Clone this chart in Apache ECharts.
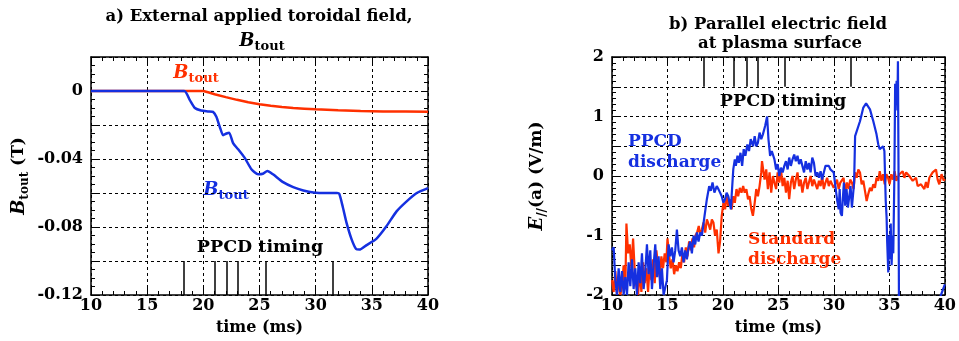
<!DOCTYPE html>
<html>
<head>
<meta charset="utf-8">
<script src="https://cdn.jsdelivr.net/npm/echarts@6/dist/echarts.min.js"></script>
<style>
  html, body { margin: 0; padding: 0; background: #fff; }
  #chart { width: 959px; height: 341px; }
</style>
</head>
<body>
<div id="chart"></div>
<script>
// panel a) external toroidal field B_tout (T) vs time (ms)
const stdBtout = [
  [10, 0], [20, 0], [20.5, -0.0009], [21, -0.0019], [22, -0.0036], [23, -0.0052],
  [24, -0.0066], [25, -0.0078], [26, -0.0087], [27, -0.0094], [28, -0.0100],
  [29, -0.0104], [30, -0.0108], [32, -0.0113], [34, -0.0117], [36, -0.0120],
  [38, -0.0121], [40, -0.0122]
]
const ppcdBtout = [
  [10, 0], [18.3, 0], [18.8, -0.0054], [19.25, -0.0100], [19.8, -0.0115], [20.4, -0.0120],
  [20.86, -0.0123], [21.16, -0.0152], [21.46, -0.021], [21.76, -0.026], [22.06, -0.025],
  [22.3, -0.0245], [22.65, -0.0307], [23.1, -0.0343], [23.7, -0.0395], [24.28, -0.046],
  [24.87, -0.049], [25.3, -0.0487], [25.7, -0.047], [26.2, -0.049], [27.1, -0.0536],
  [28.0, -0.0565], [28.9, -0.0585], [29.8, -0.0597], [31.0, -0.0600], [31.9, -0.0600],
  [32.1, -0.0605], [32.4, -0.0678], [32.75, -0.0776], [33.2, -0.0873], [33.6, -0.0930],
  [33.9, -0.0933], [34.5, -0.0908], [35.4, -0.0870], [36.3, -0.0796], [37.2, -0.0708],
  [38.1, -0.0649], [39.0, -0.0600], [40, -0.0571]
]
const ppcdTiming = [18.3, 21.0, 22.1, 23.1, 25.6, 31.5]

// panel b) parallel electric field E//(a) (V/m) vs time (ms)
const stdEpar = [
  [10.0, -1.75], [10.15, -1.95], [10.3, -1.6], [10.45, -2.0], [10.6, -1.7], [10.75, -2.0],
  [10.9, -1.85], [11.05, -1.5], [11.2, -1.9], [11.3, -0.8], [11.45, -1.3], [11.6, -1.15],
  [11.75, -1.55], [11.9, -1.05], [12.05, -1.6], [12.2, -1.85], [12.35, -2.0], [12.5, -1.6],
  [12.65, -1.95], [12.8, -1.45], [12.95, -1.8], [13.1, -1.55], [13.25, -1.95], [13.4, -1.5],
  [13.55, -1.75], [13.7, -1.4], [13.85, -1.8], [14.0, -1.25], [14.15, -1.5], [14.3, -1.7],
  [14.45, -1.35], [14.6, -1.55], [14.75, -1.3], [14.9, -1.45], [15.0, -1.05], [15.15, -1.35],
  [15.3, -1.55], [15.45, -1.4], [15.6, -1.65], [15.75, -1.5], [15.9, -1.6], [16.05, -1.45],
  [16.2, -1.55], [16.35, -1.3], [16.5, -1.45], [16.65, -1.2], [16.8, -1.35], [16.95, -1.1],
  [17.1, -1.25], [17.25, -1.05], [17.4, -1.2], [17.52, -1.0], [17.67, -0.95], [17.82, -0.84],
  [17.96, -1.0], [18.1, -0.9], [18.25, -0.78], [18.4, -0.95], [18.55, -0.73], [18.7, -0.81],
  [18.85, -0.9], [19.0, -0.73], [19.14, -0.78], [19.29, -1.0], [19.44, -0.9], [19.6, -1.3],
  [19.74, -1.1], [19.89, -0.67], [20.04, -0.45], [20.19, -0.56], [20.33, -0.34], [20.48, -0.5],
  [20.63, -0.39], [20.78, -0.56], [20.93, -0.34], [21.07, -0.45], [21.22, -0.22], [21.37, -0.34],
  [21.52, -0.2], [21.67, -0.28], [21.82, -0.17], [21.96, -0.28], [22.11, -0.22], [22.26, -0.39],
  [22.4, -0.34], [22.56, -0.56], [22.7, -0.67], [22.86, -0.45], [23.0, -0.22], [23.15, -0.34],
  [23.3, -0.17], [23.45, 0.06], [23.52, 0.25], [23.75, -0.06], [23.9, 0.11], [24.05, -0.22],
  [24.2, 0.06], [24.35, -0.28], [24.5, 0.0], [24.64, -0.11], [24.79, -0.22], [24.93, 0.06],
  [25.08, -0.11], [25.23, 0.11], [25.38, -0.17], [25.53, -0.03], [25.68, -0.28], [25.83, -0.08],
  [25.97, -0.39], [26.12, -0.11], [26.27, 0.0], [26.42, -0.22], [26.57, -0.06], [26.72, 0.06],
  [26.86, -0.17], [27.01, -0.06], [27.16, -0.28], [27.31, -0.11], [27.46, -0.03], [27.61, -0.22],
  [27.75, -0.11], [27.9, 0.0], [28.05, -0.17], [28.2, -0.06], [28.35, -0.14], [28.5, -0.22],
  [28.65, -0.08], [28.8, -0.17], [28.94, 0.0], [29.09, -0.22], [29.24, -0.11], [29.39, -0.03],
  [29.54, -0.17], [29.69, -0.08], [29.83, -0.06], [29.98, -0.2], [30.13, -0.17], [30.28, -0.06],
  [30.43, -0.22], [30.58, -0.11], [30.72, -0.14], [30.87, -0.03], [31.02, -0.28], [31.17, -0.11],
  [31.32, -0.22], [31.47, -0.06], [31.62, -0.11], [31.77, -0.22], [31.91, 0.06], [32.06, -0.03],
  [32.2, 0.11], [32.35, 0.06], [32.5, -0.14], [32.65, -0.08], [32.8, -0.25], [32.95, -0.42],
  [33.1, -0.3], [33.25, -0.2], [33.4, -0.25], [33.55, -0.14], [33.7, -0.2], [33.84, -0.03],
  [34.0, -0.08], [34.13, 0.08], [34.28, -0.08], [34.43, 0.03], [34.58, -0.14], [34.73, 0.03],
  [34.88, -0.03], [35.02, -0.14], [35.17, 0.03], [35.32, -0.06], [35.47, 0.08], [35.62, -0.08],
  [35.9, 0.03], [36.2, 0.08], [36.35, -0.03], [36.51, 0.06], [36.8, 0.0], [37.1, -0.08],
  [37.4, -0.03], [37.55, -0.17], [37.85, -0.14], [38.15, -0.22], [38.3, -0.1], [38.45, -0.2],
  [38.6, -0.03], [38.9, 0.06], [39.2, 0.11], [39.35, -0.06], [39.5, -0.14], [39.7, 0.03],
  [39.9, -0.08], [40.0, -0.05]
]
const ppcdEpar = [
  [10.0, -1.25], [10.15, -1.2], [10.3, -1.75], [10.45, -2.0], [10.6, -1.55], [10.75, -1.95],
  [10.9, -1.6], [11.05, -2.0], [11.2, -1.7], [11.35, -2.0], [11.5, -1.45], [11.65, -1.85],
  [11.8, -1.4], [11.95, -1.9], [12.1, -1.55], [12.25, -2.0], [12.4, -1.45], [12.55, -1.8],
  [12.7, -1.3], [12.85, -1.9], [13.0, -1.6], [13.15, -1.15], [13.3, -1.65], [13.45, -1.25],
  [13.6, -1.9], [13.75, -1.5], [13.9, -1.15], [14.05, -1.7], [14.2, -1.35], [14.35, -1.9],
  [14.5, -1.55], [14.65, -2.0], [14.8, -2.0], [14.95, -1.75], [15.1, -1.15], [15.25, -1.35],
  [15.4, -1.2], [15.55, -1.45], [15.7, -1.25], [15.85, -0.9], [16.0, -1.25], [16.15, -1.35],
  [16.3, -1.2], [16.45, -1.45], [16.6, -1.25], [16.75, -1.4], [16.9, -1.2], [17.05, -1.1],
  [17.2, -1.3], [17.35, -1.0], [17.5, -1.15], [17.65, -0.95], [17.8, -1.1], [17.95, -0.95],
  [18.1, -1.0], [18.34, -0.67], [18.55, -0.39], [18.76, -0.17], [18.9, -0.25], [19.06, -0.11],
  [19.23, -0.28], [19.44, -0.17], [19.59, -0.22], [19.74, -0.28], [19.89, -0.34], [20.04, -0.45],
  [20.19, -0.39], [20.33, -0.28], [20.48, -0.34], [20.63, -0.48], [20.72, -0.56], [20.78, -0.34],
  [20.93, 0.11], [21.07, 0.28], [21.16, 0.17], [21.31, 0.34], [21.43, 0.22], [21.58, 0.39],
  [21.73, 0.17], [21.87, 0.45], [22.02, 0.34], [22.2, 0.53], [22.35, 0.42], [22.5, 0.62],
  [22.71, 0.5], [22.86, 0.67], [23.0, 0.5], [23.15, 0.56], [23.3, 0.73], [23.45, 0.62],
  [23.6, 0.7], [23.8, 0.84], [23.98, 1.0], [24.1, 0.62], [24.25, 0.34], [24.4, 0.42],
  [24.49, 0.42], [24.64, 0.28], [24.79, 0.11], [24.93, 0.2], [25.08, 0.0], [25.23, 0.14],
  [25.38, 0.06], [25.53, 0.17], [25.68, 0.25], [25.83, 0.11], [25.97, 0.31], [26.12, 0.17],
  [26.27, 0.28], [26.42, 0.36], [26.57, 0.25], [26.72, 0.34], [26.86, 0.2], [27.01, 0.28],
  [27.16, 0.17], [27.31, 0.06], [27.46, 0.25], [27.61, 0.11], [27.75, 0.22], [27.9, 0.06],
  [28.05, 0.31], [28.2, 0.22], [28.35, 0.0], [28.5, 0.06], [28.65, -0.03], [28.8, 0.08],
  [28.94, -0.06], [29.09, 0.06], [29.24, 0.17], [29.39, 0.14], [29.54, 0.17], [29.69, 0.11],
  [29.83, 0.14], [29.98, 0.06], [30.13, 0.08], [30.28, -0.39], [30.43, -0.56], [30.52, -0.22],
  [30.6, -0.62], [30.72, -0.67], [30.8, -0.39], [30.9, -0.11], [31.02, -0.5], [31.14, -0.22],
  [31.26, -0.53], [31.38, -0.5], [31.5, -0.17], [31.62, -0.53], [31.73, -0.5], [31.82, -0.11],
  [31.91, 0.67], [32.06, 0.7], [32.35, 0.92], [32.65, 1.15], [32.9, 1.22], [33.25, 1.12],
  [33.55, 0.92], [33.84, 0.7], [34.0, 0.53], [34.13, 0.45], [34.43, 0.5], [34.55, 0.42],
  [34.67, -0.42], [34.75, -0.7], [34.8, -1.1], [34.9, -1.62], [34.97, -1.0], [35.05, -1.4],
  [35.12, -0.8], [35.2, -1.5], [35.28, -1.0], [35.35, -1.3], [35.45, 0.0], [35.52, 1.55],
  [35.58, 1.2], [35.65, 1.6], [35.72, 1.1], [35.77, 1.93], [35.82, 0.2], [35.86, -2.05],
  [35.9, '-'], [39.55, -2.05], [40.0, -1.82]
]

const serif = "'DejaVu Serif', 'Liberation Serif', serif"
const red = '#ff3000'
const blue = '#1530e0'

const chart = echarts.init(document.getElementById('chart'))

const gridLine = { show: true, lineStyle: { color: '#000', type: [3, 3], width: 1 } }
const frameLine = { show: true, onZero: false, lineStyle: { color: '#000', width: 1.5 } }
const tick = { show: true, inside: true, length: 7, lineStyle: { color: '#000', width: 1 } }
const labelFont = { color: '#000', fontFamily: serif, fontWeight: 'bold', fontSize: 16 }

function xAxes(gridIndex) {
  const base = {
    gridIndex, type: 'value', min: 10, max: 40, interval: 5,
    axisLine: frameLine, axisTick: tick,
    minorTick: { show: true, splitNumber: 5, length: 4, lineStyle: { color: '#000' } },
  }
  return [
    {
      ...base, position: 'bottom', splitLine: gridLine,
      axisLabel: { ...labelFont, margin: 3 },
      name: 'time (ms)', nameLocation: 'middle', nameGap: 25,
      nameTextStyle: { ...labelFont },
    },
    { ...base, position: 'top', splitLine: { show: false }, axisLabel: { show: false } },
  ]
}

function yAxes(gridIndex, min, max, interval, minorSplit, fmt, name, nameGap, rich) {
  const base = {
    gridIndex, type: 'value', min, max, interval,
    axisLine: frameLine, axisTick: tick,
    minorTick: { show: true, splitNumber: minorSplit, length: 4, lineStyle: { color: '#000' } },
  }
  return [
    {
      ...base, position: 'left', splitLine: gridLine,
      axisLabel: { ...labelFont, margin: 8, formatter: fmt },
      name, nameLocation: 'middle', nameGap, nameRotate: 90,
      nameTextStyle: { rich },
    },
    { ...base, position: 'right', splitLine: { show: false }, axisLabel: { show: false } },
  ]
}

const fmtB = (v) => (Math.abs(Math.round(v / 0.02)) % 2 === 0 ? String(+v.toFixed(2)) : '')
const fmtE = (v) => (Math.abs(Math.round(v * 2)) % 2 === 0 ? String(Math.round(v)) : '')

const richB = {
  b: { fontFamily: serif, fontWeight: 'bold', fontStyle: 'italic', fontSize: 18, color: '#000', lineHeight: 24 },
  s: { fontFamily: serif, fontWeight: 'bold', fontSize: 12, color: '#000', verticalAlign: 'bottom' },
  n: { fontFamily: serif, fontWeight: 'bold', fontSize: 17, color: '#000', lineHeight: 24 },
}

function timingMarks(y0, y1) {
  return {
    symbol: 'none', silent: true, animation: false,
    label: { show: false },
    lineStyle: { color: '#000', type: 'solid', width: 1.5 },
    data: ppcdTiming.map((t) => [{ coord: [t, y0] }, { coord: [t, y1] }]),
  }
}

function txt(x, y, rich, text, align) {
  return {
    type: 'text', x, y, silent: true,
    style: { text, align: align || 'center', verticalAlign: 'middle', rich },
  }
}

function richFor(color, big) {
  return {
    t: { fontFamily: serif, fontWeight: 'bold', fontSize: big || 16.5, fill: color, lineHeight: 21 },
    b: { fontFamily: serif, fontWeight: 'bold', fontStyle: 'italic', fontSize: 18, fill: color, lineHeight: 24 },
    s: { fontFamily: serif, fontWeight: 'bold', fontSize: 13, fill: color, verticalAlign: 'bottom' },
  }
}

const option = {
  animation: false,
  backgroundColor: '#fff',
  grid: [
    { left: 91, top: 57, width: 337, height: 239 },
    { left: 612, top: 57, width: 337, height: 239 },
  ],
  xAxis: [...xAxes(0), ...xAxes(1)],
  yAxis: [
    ...yAxes(0, -0.12, 0.02, 0.02, 4, fmtB, '{b|B}{s|tout}{n| (T)}', 60, richB),
    ...yAxes(1, -2, 2, 0.5, 5, fmtE, '{b|E}{s|//}{n|(a) (V/m)}', 63, richB),
  ],
  series: [
    {
      type: 'line', xAxisIndex: 0, yAxisIndex: 0, data: stdBtout,
      symbol: 'none', lineStyle: { color: red, width: 2.5 },
      markLine: timingMarks(-0.10, -0.12),
    },
    {
      type: 'line', xAxisIndex: 0, yAxisIndex: 0, data: ppcdBtout,
      symbol: 'none', smooth: 0.2, lineStyle: { color: blue, width: 2.5 },
    },
    {
      type: 'line', xAxisIndex: 2, yAxisIndex: 2, data: stdEpar,
      symbol: 'none', lineStyle: { color: red, width: 2.2 },
      markLine: timingMarks(2, 1.5),
    },
    {
      type: 'line', xAxisIndex: 2, yAxisIndex: 2, data: ppcdEpar,
      symbol: 'none', connectNulls: false, lineStyle: { color: blue, width: 2.2 },
    },
  ],
  graphic: [
    txt(259, 17, richFor('#000'), '{t|a) External applied toroidal field,}'),
    txt(262, 41, richFor('#000'), '{b|B}{s|tout}'),
    txt(778, 25, richFor('#000'), '{t|b) Parallel electric field}'),
    txt(780, 44, richFor('#000'), '{t|at plasma surface}'),
    txt(196, 73, richFor(red), '{b|B}{s|tout}'),
    txt(226, 190, richFor(blue), '{b|B}{s|tout}'),
    txt(260, 247, richFor('#000', 17.5), '{t|PPCD timing}'),
    txt(783, 101, richFor('#000', 17.5), '{t|PPCD timing}'),
    txt(628, 142, richFor(blue, 17), '{t|PPCD}', 'left'),
    txt(628, 163, richFor(blue, 17), '{t|discharge}', 'left'),
    txt(748, 240, richFor(red, 17), '{t|Standard}', 'left'),
    txt(748, 260, richFor(red, 17), '{t|discharge}', 'left'),
  ],
}

chart.setOption(option)
</script>
</body>
</html>
